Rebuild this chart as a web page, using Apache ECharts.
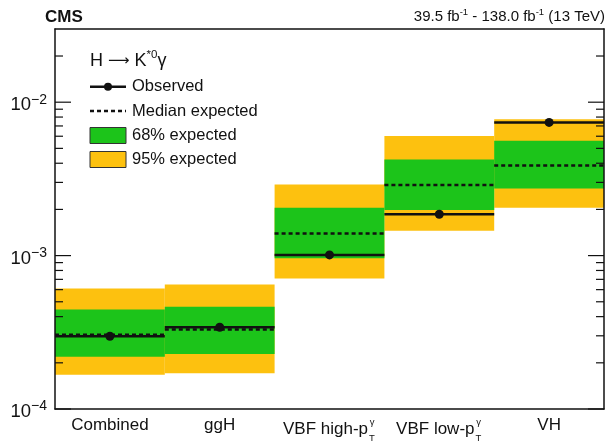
<!DOCTYPE html>
<html>
<head>
<meta charset="utf-8">
<script src="https://cdn.jsdelivr.net/npm/echarts@6/dist/echarts.min.js"></script>
<style>
  html, body { margin: 0; padding: 0; background: #fff; }
  #chart { width: 612px; height: 446px; }
</style>
</head>
<body>
<div id="chart"></div>
<script>
// Upper limits on B(H -> K*0 gamma) per analysis category
const categoryNames = ['Combined', 'ggH', 'VBF high-p', 'VBF low-p', 'VH'];
const categorySub   = ['', '', 'T', 'T', ''];
const categorySup   = ['', '', 'γ', 'γ', ''];

const observed   = [2.98e-4, 3.41e-4, 1.01e-3, 1.86e-3, 7.38e-3];
const medianExp  = [3.05e-4, 3.30e-4, 1.395e-3, 2.88e-3, 3.87e-3];
const band68Lo   = [2.19e-4, 2.28e-4, 9.6e-4, 1.98e-3, 2.74e-3];
const band68Hi   = [4.46e-4, 4.64e-4, 2.05e-3, 4.23e-3, 5.60e-3];
const band95Lo   = [1.67e-4, 1.71e-4, 7.1e-4, 1.45e-3, 2.05e-3];
const band95Hi   = [6.10e-4, 6.49e-4, 2.91e-3, 6.03e-3, 7.75e-3];

const yMin = 1e-4;
const yMax = 3e-2;
const majorTicks = [1e-4, 1e-3, 1e-2];
const minorTicks = [2e-4, 3e-4, 4e-4, 5e-4, 6e-4, 7e-4, 8e-4, 9e-4,
                    2e-3, 3e-3, 4e-3, 5e-3, 6e-3, 7e-3, 8e-3, 9e-3, 2e-2];

const FONT = '"Liberation Sans", Arial, Helvetica, sans-serif';
const ARROW_FONT = '"DejaVu Sans", "Liberation Sans", sans-serif';
const GREEN = '#1cc41a';
const YELLOW = '#fdc10f';
const INK = '#111';

const chart = echarts.init(document.getElementById('chart'), null, { renderer: 'canvas' });

// width of the main part of a category label, so the stacked sup/sub line up
const ctx = document.createElement('canvas').getContext('2d');
const LABEL_SIZE = 17;
ctx.font = LABEL_SIZE + 'px ' + FONT;
const xRich = {
  n: { fontSize: LABEL_SIZE, fontFamily: FONT, color: INK, lineHeight: 20, verticalAlign: 'middle' },
  g: { fontSize: 9.5, fontFamily: FONT, color: INK, lineHeight: 4, width: 8, padding: [10, 0, 0, 0], verticalAlign: 'middle' },
  t: { fontSize: 9.5, fontFamily: FONT, color: INK, lineHeight: 12, width: 8, padding: [19, 0, 0, 0], verticalAlign: 'middle' }
};
categoryNames.forEach((name, i) => {
  xRich['p' + i] = { width: ctx.measureText(name).width, fontSize: 4, lineHeight: 4 };
});

function xLabel(value, index) {
  const name = categoryNames[index];
  if (!categorySup[index]) return '{n|' + name + '}';
  return '{p' + index + '| }{g|' + categorySup[index] + '}\n{n|' + name + '}{t|' + categorySub[index] + '}';
}

function yLabel(value) {
  const e = Math.round(Math.log10(value));
  if (Math.abs(value - Math.pow(10, e)) / value > 1e-6) return '';
  const exp = (e < 0 ? '\u2212' : '') + Math.abs(e);
  return '{b|10}{s|' + exp + '}';
}

const bandData = (lo, hi) => categoryNames.map((_, i) => [i, lo[i], hi[i]]);

function bandRender(color) {
  return function (params, api) {
    const cs = params.coordSys;
    const w = cs.width / categoryNames.length;
    const lo = api.coord([api.value(0), api.value(1)]);
    const hi = api.coord([api.value(0), api.value(2)]);
    return {
      type: 'rect',
      shape: { x: lo[0] - w / 2, y: hi[1], width: w, height: lo[1] - hi[1] },
      style: { fill: color }
    };
  };
}

function levelRender(dashed, withDot) {
  return function (params, api) {
    const cs = params.coordSys;
    const w = cs.width / categoryNames.length;
    const p = api.coord([api.value(0), api.value(1)]);
    const children = [{
      type: 'line',
      shape: { x1: p[0] - w / 2, y1: p[1], x2: p[0] + w / 2, y2: p[1] },
      style: { stroke: INK, lineWidth: 2.5, lineDash: dashed ? [4, 3] : null }
    }];
    if (withDot) {
      children.push({ type: 'circle', shape: { cx: p[0], cy: p[1], r: 4.5 }, style: { fill: INK } });
    }
    return { type: 'group', children };
  };
}

const tickValues = majorTicks.concat(minorTicks);
function tickRender(params, api) {
  const cs = params.coordSys;
  const y = api.coord([0, api.value(1)])[1];
  const len = params.dataIndex < majorTicks.length ? 16 : 8;
  return {
    type: 'group',
    children: [
      { type: 'line', shape: { x1: cs.x, y1: y, x2: cs.x + len, y2: y }, style: { stroke: INK, lineWidth: 1.2 } },
      { type: 'line', shape: { x1: cs.x + cs.width, y1: y, x2: cs.x + cs.width - len, y2: y }, style: { stroke: INK, lineWidth: 1.2 } }
    ]
  };
}

const axisLineStyle = { show: true, lineStyle: { color: INK, width: 1.5 } };

const option = {
  animation: false,
  backgroundColor: '#fff',
  textStyle: { fontFamily: FONT },
  title: [
    {
      text: 'CMS', left: 45, top: 9, padding: 0,
      textStyle: { fontFamily: FONT, fontSize: 17, fontWeight: 'bold', color: INK }
    },
    {
      text: '{a|39.5 fb}{s|-1}{a| - 138.0 fb}{s|-1}{a| (13 TeV)}', right: 7, top: 8, padding: 0,
      textStyle: {
        fontWeight: 'normal',
        rich: {
          a: { fontFamily: FONT, fontSize: 15, fontWeight: 'normal', color: INK, lineHeight: 18, verticalAlign: 'middle' },
          s: { fontFamily: FONT, fontSize: 9.5, fontWeight: 'normal', color: INK, lineHeight: 9, padding: [0, 0, 9, 0], verticalAlign: 'middle' }
        }
      }
    }
  ],
  grid: { left: 55, right: 8, top: 29, bottom: 37, containLabel: false },
  xAxis: [
    {
      type: 'category', data: categoryNames, boundaryGap: true, z: 10,
      axisLine: axisLineStyle, axisTick: { show: false }, splitLine: { show: false },
      axisLabel: { interval: 0, margin: 6, formatter: xLabel, rich: xRich, fontFamily: FONT }
    },
    {
      type: 'category', data: categoryNames, position: 'top', z: 10,
      axisLine: axisLineStyle, axisTick: { show: false }, axisLabel: { show: false }, splitLine: { show: false }
    }
  ],
  yAxis: [
    {
      type: 'log', logBase: 10, min: yMin, max: yMax, z: 10,
      axisLine: axisLineStyle, axisTick: { show: false }, splitLine: { show: false }, minorTick: { show: false },
      axisLabel: {
        margin: 8, formatter: yLabel,
        rich: {
          b: { fontFamily: FONT, fontSize: 18.5, color: INK, lineHeight: 22, padding: [6, 0, 0, 0], verticalAlign: 'middle' },
          s: { fontFamily: FONT, fontSize: 14, color: INK, lineHeight: 14, padding: [0, 0, 5, 0], verticalAlign: 'middle' }
        }
      }
    },
    {
      type: 'log', logBase: 10, min: yMin, max: yMax, position: 'right', z: 10,
      axisLine: axisLineStyle, axisTick: { show: false }, axisLabel: { show: false }, splitLine: { show: false }
    }
  ],
  series: [
    { name: '95% expected', type: 'custom', z: 2, data: bandData(band95Lo, band95Hi),
      encode: { x: 0, y: [1, 2] }, renderItem: bandRender(YELLOW) },
    { name: '68% expected', type: 'custom', z: 3, data: bandData(band68Lo, band68Hi),
      encode: { x: 0, y: [1, 2] }, renderItem: bandRender(GREEN) },
    { name: 'Median expected', type: 'custom', z: 4, data: categoryNames.map((_, i) => [i, medianExp[i]]),
      encode: { x: 0, y: 1 }, renderItem: levelRender(true, false) },
    { name: 'Observed', type: 'custom', z: 5, data: categoryNames.map((_, i) => [i, observed[i]]),
      encode: { x: 0, y: 1 }, renderItem: levelRender(false, true) },
    { name: 'ticks', type: 'custom', z: 6, silent: true, data: tickValues.map(v => [0, v]),
      encode: { x: 0, y: 1 }, renderItem: tickRender }
  ],
  graphic: [
    {
      type: 'text', left: 90, top: 49, z: 20,
      style: {
        text: '{a|H }{r|\u27F6}{a| K}{s|*0}{a|γ}',
        rich: {
          a: { fontFamily: FONT, fontSize: 18, fill: INK, lineHeight: 22, verticalAlign: 'middle' },
          r: { fontFamily: ARROW_FONT, fontSize: 15, fill: INK, lineHeight: 22, verticalAlign: 'middle' },
          s: { fontFamily: FONT, fontSize: 11.5, fill: INK, lineHeight: 11, padding: [0, 0, 12, 0], verticalAlign: 'middle' }
        }
      }
    },
    { type: 'line', z: 20, shape: { x1: 90, y1: 86.7, x2: 126, y2: 86.7 }, style: { stroke: INK, lineWidth: 2.5 } },
    { type: 'circle', z: 20, shape: { cx: 108, cy: 86.7, r: 4 }, style: { fill: INK } },
    { type: 'text', z: 20, x: 132, y: 86.7, style: { text: 'Observed', fontFamily: FONT, fontSize: 16.5, fill: INK, verticalAlign: 'middle' } },
    { type: 'line', z: 20, shape: { x1: 90, y1: 111, x2: 126, y2: 111 }, style: { stroke: INK, lineWidth: 2.5, lineDash: [4, 3] } },
    { type: 'text', z: 20, x: 132, y: 111, style: { text: 'Median expected', fontFamily: FONT, fontSize: 16.5, fill: INK, verticalAlign: 'middle' } },
    { type: 'rect', z: 20, shape: { x: 90, y: 127.5, width: 36, height: 16 }, style: { fill: GREEN, stroke: '#333', lineWidth: 1 } },
    { type: 'text', z: 20, x: 132, y: 135.5, style: { text: '68% expected', fontFamily: FONT, fontSize: 16.5, fill: INK, verticalAlign: 'middle' } },
    { type: 'rect', z: 20, shape: { x: 90, y: 151.5, width: 36, height: 16 }, style: { fill: YELLOW, stroke: '#333', lineWidth: 1 } },
    { type: 'text', z: 20, x: 132, y: 159.5, style: { text: '95% expected', fontFamily: FONT, fontSize: 16.5, fill: INK, verticalAlign: 'middle' } }
  ]
};

chart.setOption(option);
</script>
</body>
</html>
